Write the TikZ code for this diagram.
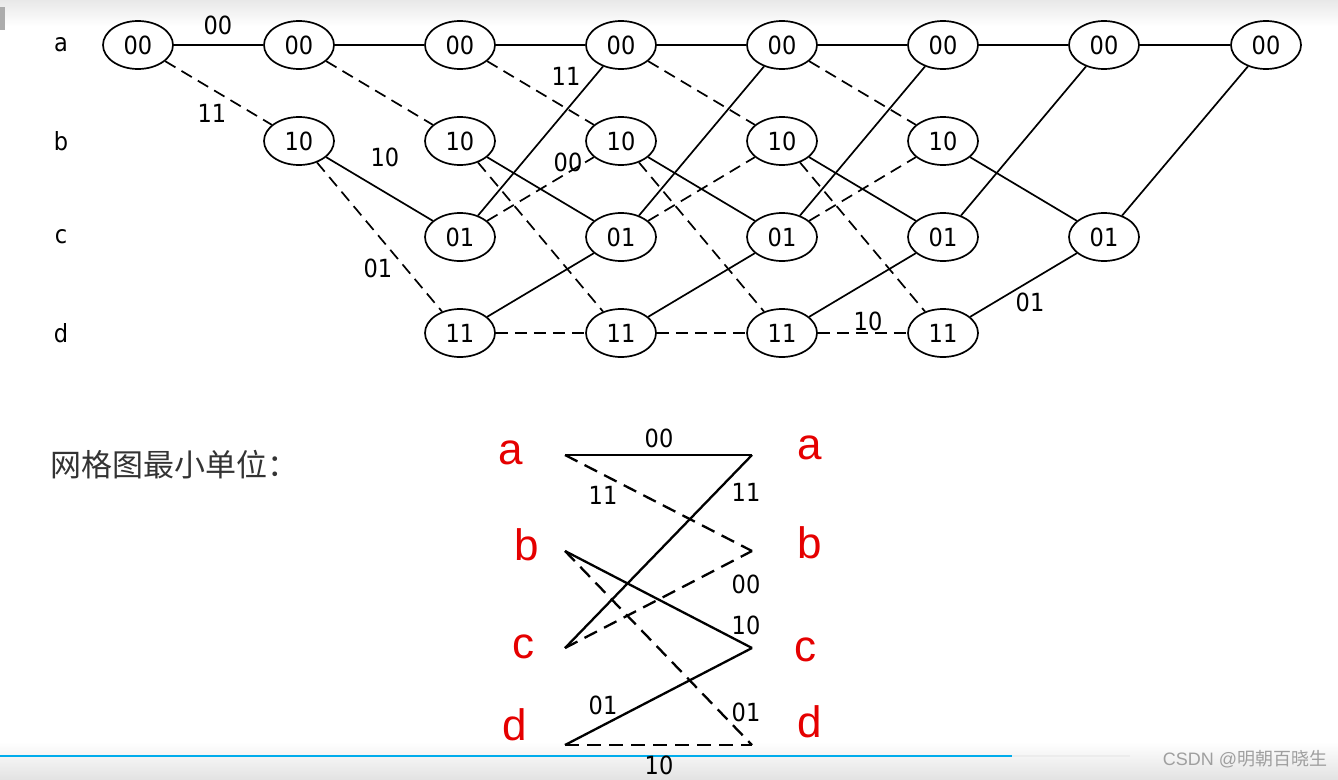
\documentclass[tikz,border=0pt]{standalone}
\usepackage{fontspec}
\setmainfont{DejaVu Sans Condensed}
\newfontfamily\cjkfont{Noto Sans CJK SC}
\newfontfamily\handfont{Liberation Sans}
\usetikzlibrary{shapes.geometric}
\definecolor{csdnblue}{RGB}{0,172,236}
\begin{document}
\begin{tikzpicture}[x=1pt,y=-1pt,
  st/.style={ellipse,draw,line width=1.7pt,minimum width=70pt,minimum height=48pt,inner sep=0pt,font=\fontsize{25}{28}\selectfont},
  sol/.style={line width=1.7pt},
  dsh/.style={line width=1.7pt,dash pattern=on 12pt off 7pt},
  usol/.style={line width=2.3pt},
  udsh/.style={line width=2.3pt,dash pattern=on 14pt off 8pt},
  lab/.style={font=\fontsize{25}{28}\selectfont,inner sep=0pt},
  rowlab/.style={font=\fontsize{25}{28}\selectfont,inner sep=0pt},
  hand/.style={font=\handfont\fontsize{44}{48}\selectfont,text=red!90!black,inner sep=0pt}]
\useasboundingbox (0,0) rectangle (1338,779);
% backgrounds
\shade[top color=gray!18,bottom color=white] (0,0) rectangle (1338,26);
\shade[top color=white,bottom color=gray!22] (0,742) rectangle (1338,779);
\fill[gray!65] (0,7) rectangle (5,30);
% row labels
\node[rowlab] (ra0) at (61,45) {a};
\node[rowlab] (rb0) at (61,141) {b};
\node[rowlab] (rc0) at (61,237) {c};
\node[rowlab] (rd0) at (61,333) {d};
% states
\node[st] (a0) at (138,45) {00};
\node[st] (a1) at (299,45) {00};
\node[st] (b1) at (299,141) {10};
\foreach \i/\x in {2/460,3/621,4/782,5/943}{
  \node[st] (a\i) at (\x,45) {00};
  \node[st] (b\i) at (\x,141) {10};
  \node[st] (c\i) at (\x,237) {01};
  \node[st] (d\i) at (\x,333) {11};
}
\node[st] (a6) at (1104,45) {00};
\node[st] (c6) at (1104,237) {01};
\node[st] (a7) at (1266,45) {00};
% transitions
\draw[sol] (a0) -- (a1);
\draw[dsh] (a0) -- (b1);
\draw[sol] (a1) -- (a2);
\draw[dsh] (a1) -- (b2);
\draw[sol] (b1) -- (c2);
\draw[dsh] (b1) -- (d2);
\foreach \i/\j in {2/3,3/4,4/5}{
  \draw[sol] (a\i) -- (a\j);
  \draw[dsh] (a\i) -- (b\j);
  \draw[sol] (b\i) -- (c\j);
  \draw[dsh] (b\i) -- (d\j);
  \draw[sol] (c\i) -- (a\j);
  \draw[dsh] (c\i) -- (b\j);
  \draw[sol] (d\i) -- (c\j);
  \draw[dsh] (d\i) -- (d\j);
}
\draw[sol] (a5) -- (a6);
\draw[sol] (c5) -- (a6);
\draw[sol] (b5) -- (c6);
\draw[sol] (d5) -- (c6);
\draw[sol] (a6) -- (a7);
\draw[sol] (c6) -- (a7);
% edge labels
\node[lab] (l1) at (218,25) {00};
\node[lab] (l2) at (212,113) {11};
\node[lab] (l3) at (385,157) {10};
\node[lab] (l4) at (378,268) {01};
\node[lab] (l5) at (566,76) {11};
\node[lab] (l6) at (568,162) {00};
\node[lab] (l7) at (868,321) {10};
\node[lab] (l8) at (1030,302) {01};
% minimal unit heading
\node[font=\cjkfont\fontsize{31}{34}\selectfont,text=black!80,anchor=west,inner sep=0pt] (head) at (50,465) {网格图最小单位：};
% unit diagram
\coordinate (ua) at (565,455);
\coordinate (ub) at (565,551);
\coordinate (uc) at (565,648);
\coordinate (ud) at (565,745);
\coordinate (va) at (752,455);
\coordinate (vb) at (752,551);
\coordinate (vc) at (752,648);
\coordinate (vd) at (752,745);
\draw[usol] (ua) -- (va);
\draw[udsh] (ua) -- (vb);
\draw[usol] (uc) -- (va);
\draw[udsh] (uc) -- (vb);
\draw[usol] (ub) -- (vc);
\draw[udsh] (ub) -- (vd);
\draw[usol] (ud) -- (vc);
\draw[udsh] (ud) -- (vd);
\node[lab] (u1) at (659,438) {00};
\node[lab] (u2) at (603,495) {11};
\node[lab] (u3) at (746,492) {11};
\node[lab] (u4) at (746,584) {00};
\node[lab] (u5) at (746,625) {10};
\node[lab] (u6) at (603,705) {01};
\node[lab] (u7) at (746,712) {01};
% handwritten letters
\node[hand] (h1) at (511,453) {a};
\node[hand] (h2) at (527,545) {b};
\node[hand] (h3) at (523,647) {c};
\node[hand] (h4) at (515,725) {d};
\node[hand] (h5) at (810,448) {a};
\node[hand] (h6) at (810,543) {b};
\node[hand] (h7) at (805,650) {c};
\node[hand] (h8) at (810,722) {d};
% bottom bar
\draw[line width=2.5pt,csdnblue] (0,756) -- (1012,756);
\draw[line width=1.5pt,gray!15] (1012,756) -- (1130,756);
\node[lab] (u8) at (659,765) {10};
\node[font=\handfont\fontsize{18}{20}\selectfont,text=gray!75,inner sep=0pt] (wm) at (1245,759) {CSDN @\cjkfont 明朝百晓生};
\end{tikzpicture}
\end{document}
